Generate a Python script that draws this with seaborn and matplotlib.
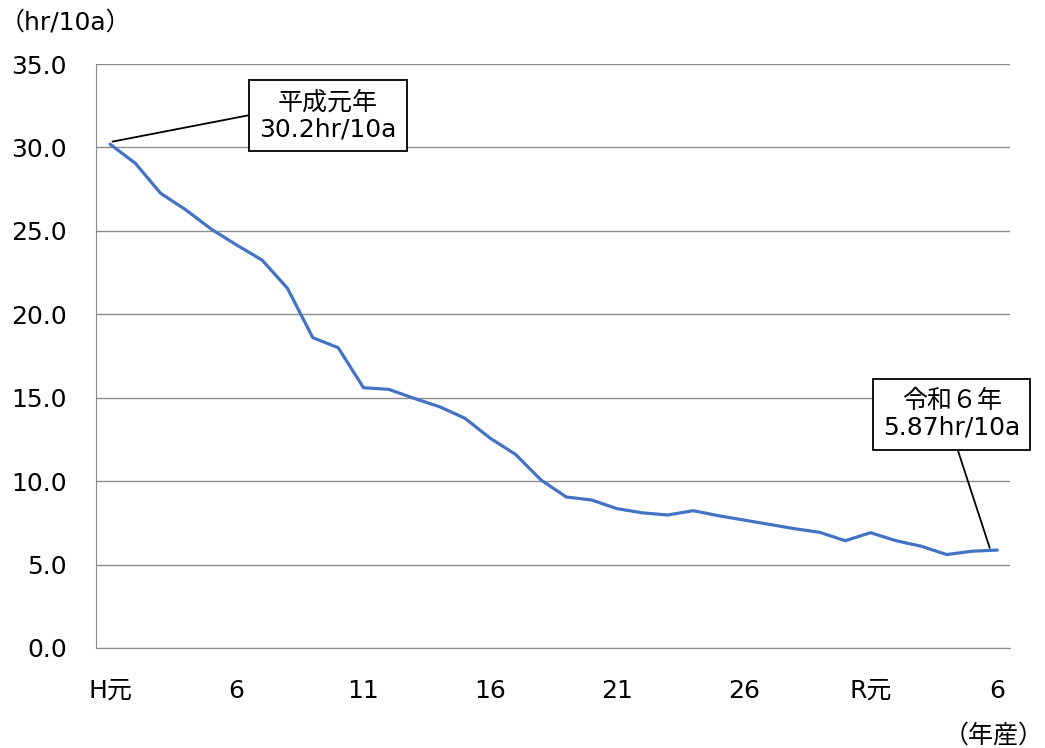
import pandas as pd
import matplotlib
matplotlib.use("Agg")
import matplotlib.pyplot as plt
import seaborn as sns

# labour hours per 10a, H1 (1989) .. R6 (2024)
years = list(range(36))
hours = [30.2, 29.05, 27.25, 26.25, 25.1, 24.15, 23.25, 21.56, 18.6, 18.0,
         15.6, 15.5, 14.96, 14.46, 13.77, 12.57, 11.6, 10.07, 9.05, 8.87,
         8.35, 8.1, 7.97, 8.23, 7.93, 7.67, 7.41, 7.15, 6.93, 6.43,
         6.91, 6.43, 6.1, 5.6, 5.8, 5.87]
tick_pos = [0, 5, 10, 15, 20, 25, 30, 35]
tick_labels = ["H元", "6", "11", "16", "21", "26", "R元", "6"]
y_ticks = [0, 5, 10, 15, 20, 25, 30, 35]

df = pd.DataFrame({"year": years, "hours": hours})

sns.set_style("white")
fam = ["DejaVu Sans", "Noto Sans CJK JP"]
plt.rcParams["font.family"] = fam
plt.rcParams["text.color"] = "black"
plt.rcParams["xtick.color"] = "black"
plt.rcParams["ytick.color"] = "black"

fig = plt.figure(figsize=(10.45, 7.48), dpi=100)
ax = fig.add_axes([0.0919, 0.1337, 0.8746, 0.7807])

sns.lineplot(data=df, x="year", y="hours", ax=ax, color="#4472C4", linewidth=2.3)

ax.set_xlim(-0.55, 35.5)
ax.set_ylim(0, 35)
ax.set_yticks(y_ticks)
ax.set_yticklabels([f"{v:.1f}" for v in y_ticks], fontsize=18, fontfamily=fam)
ax.set_xticks(tick_pos)
ax.set_xticklabels(tick_labels, fontsize=18, fontfamily=fam)
ax.tick_params(axis="y", length=0, pad=21)
ax.tick_params(axis="x", length=0, pad=22)
ax.set_xlabel("")
ax.set_ylabel("")
ax.grid(axis="y", color="#8c8c8c", linewidth=1)
for s in ["top", "right"]:
    ax.spines[s].set_visible(False)
ax.spines["left"].set_color("#8c8c8c")
ax.spines["bottom"].set_color("#8c8c8c")

fig.text(0.0, 0.97, "（hr/10a）", fontsize=18, va="center", ha="left", fontfamily=fam)
fig.text(0.999, 0.017, "（年産）", fontsize=18, va="center", ha="right", fontfamily=fam)

box = dict(boxstyle="square,pad=0.4", fc="white", ec="black", lw=1.3)
ax.annotate("平成元年\n30.2hr/10a", xy=(0.1, 30.35), xytext=(8.6, 31.9),
            fontsize=18, ha="center", va="center", bbox=box, linespacing=1.15,
            fontfamily=fam,
            arrowprops=dict(arrowstyle="-", color="black", lw=1.3, relpos=(0, 0.55),
                            shrinkA=0, shrinkB=0))
ax.annotate("令和６年\n5.87hr/10a", xy=(34.7, 6.0), xytext=(33.2, 14.0),
            fontsize=18, ha="center", va="center", bbox=box, linespacing=1.15,
            fontfamily=fam,
            arrowprops=dict(arrowstyle="-", color="black", lw=1.3, relpos=(0.52, 0),
                            shrinkA=0, shrinkB=0))

fig.savefig("out.png", dpi=100)
